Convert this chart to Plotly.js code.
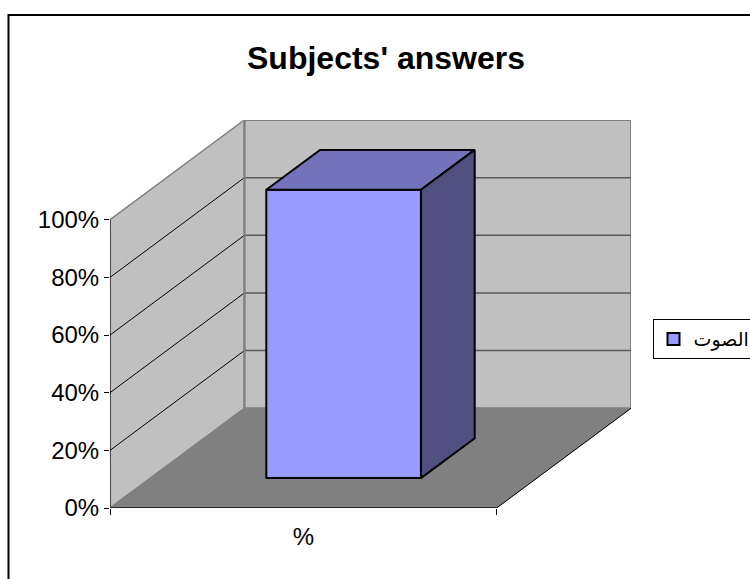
<!DOCTYPE html>
<html>
<head>
<meta charset="utf-8">
<script src="https://cdn.plot.ly/plotly-3.0.1.min.js"></script>
<style>html,body{margin:0;padding:0;background:#fff;overflow:hidden}#chart{width:750px;height:579px}</style>
</head>
<body>
<div id="chart"></div>
<script>
var chartTitle = "Subjects' answers";
var categories = ['%'];
var seriesName = 'الصوت';
var seriesValues = [100];
var tickValues = [0, 20, 40, 60, 80, 100];
var tickLabels = ['0%', '20%', '40%', '60%', '80%', '100%'];

// Oblique projection of the category/value/depth space onto the 2D axes
var depthX = 0.3475, depthY = 34.6;
var barFront = 0.3, barBack = 0.7, barHalf = 0.2, catCenter = 0.5;
var yMax = tickValues[tickValues.length - 1];

function px(x, d) { return x + d * depthX; }
function py(y, d) { return y + d * depthY; }
function poly(pts) {
  return { x: pts.map(function (p) { return px(p[0], p[2]); }),
           y: pts.map(function (p) { return py(p[1], p[2]); }) };
}
function face(pts, fill, lineColor, lineWidth, axes) {
  var c = poly(pts.concat([pts[0]]));
  return { type: 'scatter', mode: 'lines', x: c.x, y: c.y, fill: 'toself', fillcolor: fill,
    line: { color: lineColor, width: lineWidth }, showlegend: false, hoverinfo: 'skip',
    cliponaxis: false, xaxis: axes ? 'x2' : 'x', yaxis: axes ? 'y2' : 'y' };
}
function seg(pts, color, width, axes) {
  var c = poly(pts);
  return { type: 'scatter', mode: 'lines', x: c.x, y: c.y, line: { color: color, width: width },
    showlegend: false, hoverinfo: 'skip', cliponaxis: false, xaxis: axes ? 'x2' : 'x', yaxis: axes ? 'y2' : 'y' };
}

var traces = [];
// floor, walls
traces.push(face([[0,0,0],[1,0,0],[1,0,1],[0,0,1]], '#808080', '#808080', 0.5));
traces.push(face([[0,0,1],[1,0,1],[1,yMax,1],[0,yMax,1]], '#c0c0c0', '#808080', 2));
traces.push(face([[0,0,0],[0,0,1],[0,yMax,1],[0,yMax,0]], '#c0c0c0', '#808080', 1.5));
traces.push(seg([[0,0,0],[0,0,1]], '#808080', 1));
// gridlines on back and side walls
tickValues.slice(1, -1).forEach(function (t) {
  traces.push(seg([[0,t,1],[1,t,1]], '#5a5a5a', 1.5));
  traces.push(seg([[0,t,0],[0,t,1]], '#000000', 1));
});
traces.push(seg([[0,0,1],[0,yMax,1]], '#808080', 2));

// column, front face through a bar trace
var v = seriesValues[0], L = catCenter - barHalf, R = catCenter + barHalf;
traces.push({ type: 'bar', name: seriesName, x: [px(catCenter, barFront)], y: seriesValues,
  base: [py(0, barFront)], width: [R - L], marker: { color: '#9999ff', line: { color: '#000000', width: 2 } },
  cliponaxis: false, hoverinfo: 'skip', xaxis: 'x2', yaxis: 'y2' });
traces.push(face([[L,v,barFront],[R,v,barFront],[R,v,barBack],[L,v,barBack]], '#7373bb', '#000000', 2, true));
traces.push(face([[R,0,barFront],[R,0,barBack],[R,v,barBack],[R,v,barFront]], '#4f4f80', '#000000', 2, true));

// front axis lines
traces.push(seg([[0,0,0],[0,yMax,0]], '#000000', 1, true));
traces.push(seg([[0,0,0],[1,0,0]], '#2a2a2a', 2, true));
traces.push(seg([[1,0,0],[1,0,1]], '#000000', 1, true));

var xRange = [0, 1 + depthX], yRange = [0, yMax + depthY];
var font = 'Arial, "Liberation Sans", "DejaVu Sans", sans-serif';

var layout = {
  width: 750, height: 579, autosize: false,
  paper_bgcolor: '#ffffff', plot_bgcolor: 'rgba(0,0,0,0)',
  margin: { l: 110, r: 119, t: 119.7, b: 71, autoexpand: false, pad: 0 },
  font: { family: font, color: '#000000' },
  bargap: 0,
  title: { text: '<b>' + chartTitle + '</b>', x: 386 / 750, xanchor: 'center', xref: 'container',
           y: 1 - 58 / 579, yanchor: 'middle', yref: 'container', font: { family: font, size: 32, color: '#000' } },
  xaxis: { range: xRange, showgrid: false, zeroline: false, showline: false, ticks: '',
           tickmode: 'array', tickvals: [catCenter], ticktext: categories,
           tickfont: { family: font, size: 24, color: '#000' }, ticklabelstandoff: 12, fixedrange: true },
  yaxis: { range: yRange, showgrid: false, zeroline: false, showline: false, ticks: 'outside', ticklen: 5,
           tickwidth: 1, tickcolor: '#000', tickmode: 'array', tickvals: tickValues, ticktext: tickLabels,
           tickfont: { family: font, size: 24, color: '#000' }, fixedrange: true },
  xaxis2: { range: xRange, overlaying: 'x', anchor: 'y2', side: 'bottom', showgrid: false, zeroline: false,
            showline: false, ticks: 'outside', ticklen: 6, tickwidth: 1, tickcolor: '#000',
            tickmode: 'array', tickvals: [0, 1], ticktext: ['', ''], fixedrange: true },
  yaxis2: { range: yRange, overlaying: 'y', anchor: 'x2', showgrid: false, zeroline: false, showline: false,
            showticklabels: false, ticks: '', fixedrange: true },
  showlegend: true,
  legend: { x: (652.5 - 110) / 521, xanchor: 'left', y: 1 - (339 - 119.7) / 388.3, yanchor: 'middle',
            bgcolor: '#ffffff', bordercolor: '#000000', borderwidth: 1,
            font: { family: '"DejaVu Sans", sans-serif', size: 19, color: '#000' }, itemwidth: 30 },
  shapes: [{ type: 'rect', xref: 'paper', yref: 'paper', x0: (8.5 - 110) / 521, x1: (770 - 110) / 521,
             y0: 1 - (600 - 119.7) / 388.3, y1: 1 - (14.5 - 119.7) / 388.3,
             line: { color: '#000', width: 2 }, fillcolor: 'rgba(0,0,0,0)', layer: 'below' }]
};
Plotly.newPlot('chart', traces, layout, { displayModeBar: false, staticPlot: true });
</script>
</body>
</html>
